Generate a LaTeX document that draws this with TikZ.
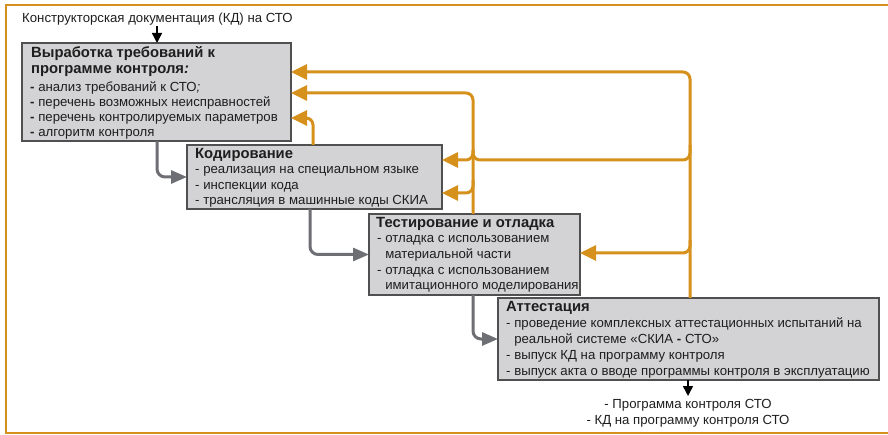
\documentclass[tikz,border=0pt]{standalone}
\usepackage{fontspec}
\setmainfont{Liberation Sans}
\usetikzlibrary{arrows.meta}
\definecolor{orng}{RGB}{214,145,28}
\definecolor{boxfill}{RGB}{211,211,213}
\definecolor{boxline}{RGB}{80,80,80}
\definecolor{garrow}{RGB}{110,111,116}
\definecolor{txtc}{RGB}{30,30,30}
\begin{document}
\begin{tikzpicture}[x=1pt,y=-1pt,
  box/.style={draw=boxline, fill=boxfill, line width=1.3pt, inner sep=0pt, outer sep=0pt, anchor=north west},
  txt/.style={anchor=base west, inner sep=0pt, font=\fontsize{13.2}{15}\selectfont, text=txtc},
  ctxt/.style={anchor=base, inner sep=0pt, font=\fontsize{13.2}{15}\selectfont, text=txtc},
  ttl/.style={anchor=base west, inner sep=0pt, font=\fontsize{14.8}{16}\selectfont\bfseries, text=txtc},
  oline/.style={draw=orng, line width=3pt, rounded corners=7pt},
  oarr/.style={oline, -{Triangle[length=16pt,width=15pt]}},
  garr/.style={draw=garrow, line width=3pt, rounded corners=8pt, -{Triangle[length=16pt,width=13pt]}},
  karr/.style={draw=black, line width=1.5pt, -{Triangle[length=10pt,width=10pt]}}]
\useasboundingbox (0,0) rectangle (888,435);
% frame
\draw[orng, line width=2pt] (888,5) -- (6,5) -- (6,433) -- (888,433);

% boxes
\node[box, minimum width=269pt, minimum height=98pt] (b1) at (22,43) {};
\node[box, minimum width=255pt, minimum height=64pt] (b2) at (187,145) {};
\node[box, minimum width=211pt, minimum height=81pt] (b3) at (369,214) {};
\node[box, minimum width=381pt, minimum height=82pt] (b4) at (498,298) {};

% texts
\node[txt] (ttop) at (22,22.5) {Конструкторская документация (КД) на СТО};

\node[ttl] (t1a) at (31,58) {Выработка требований к};
\node[ttl] (t1b) at (31,74) {программе контроля\textit{:}};
\node[txt] (t1c) at (30,91.5) {\textbf{-} анализ требований к СТО\textit{;}};
\node[txt] (t1d) at (30,106.5) {\textbf{-} перечень возможных неисправностей};
\node[txt] (t1e) at (30,122) {\textbf{-} перечень контролируемых параметров};
\node[txt] (t1f) at (30,137) {\textbf{-} алгоритм контроля};

\node[ttl] (t2a) at (195,159) {Кодирование};
\node[txt] (t2b) at (195,173.5) {- реализация на специальном языке};
\node[txt] (t2c) at (195,189.5) {- инспекции кода};
\node[txt] (t2d) at (195,205) {- трансляция в машинные коды СКИА};

\node[ttl] (t3a) at (376,228) {Тестирование и отладка};
\node[txt] (t3b) at (377,242.5) {- отладка с использованием};
\node[txt] (t3c) at (377,258.5) {\phantom{- }материальной части};
\node[txt] (t3d) at (377,274.5) {- отладка с использованием};
\node[txt] (t3e) at (377,290) {\phantom{- }имитационного моделирования};

\node[ttl] (t4a) at (506,312) {Аттестация};
\node[txt] (t4b) at (506,327.5) {- проведение комплексных аттестационных испытаний на};
\node[txt] (t4c) at (506,343.5) {\phantom{- }реальной системе «СКИА \textbf{-} СТО»};
\node[txt] (t4d) at (506,359.5) {- выпуск КД на программу контроля};
\node[txt] (t4e) at (506,375) {- выпуск акта о вводе программы контроля в эксплуатацию};

\node[ctxt] (out1) at (688,408.5) {- Программа контроля СТО};
\node[ctxt] (out2) at (688,424.5) {- КД на программу контроля СТО};

% coordinates
\coordinate (k1) at (157,26);
\coordinate (k2) at (688,396);
\coordinate (g1) at (157,0);
\coordinate (g2) at (310,0);
\coordinate (g3) at (473,0);
\coordinate (jA72) at (690,72);
\coordinate (jA145) at (690,145);
\coordinate (jA160) at (690,160);
\coordinate (jA240) at (690,240);
\coordinate (jA253) at (690,253);
\coordinate (jB93) at (473,93);
\coordinate (jB150) at (473,150);
\coordinate (jB160) at (473,160);
\coordinate (jB180) at (473,180);
\coordinate (jB193) at (473,193);
\coordinate (jC) at (313,118);

% black arrows
\draw[karr] (k1) -- (b1.north -| k1);
\draw[karr] (b4.south -| k2) -- (k2);

% gray arrows
\draw[garr] (b1.south -| g1) |- (b2.west);
\draw[garr] (b2.south -| g2) |- (b3.west);
\draw[garr] (b3.south -| g3) |- (b4.west);

% orange arrows
\draw[oarr] (b4.north -| jA72) -- (jA72) -- (b1.east |- jA72);
\draw[oline] (jA145) -- (jA160) -- (jB160) -- (jB150);
\draw[oarr] (jB150) -- (jB160) -- (b2.east |- jB160);
\draw[oarr] (jA240) -- (jA253) -- (b3.east |- jA253);
\draw[oarr] (b3.north -| jB93) -- (jB93) -- (b1.east |- jB93);
\draw[oarr] (jB180) -- (jB193) -- (b2.east |- jB193);
\draw[oarr] (b2.north -| jC) -- (jC) -- (b1.east |- jC);
\end{tikzpicture}
\end{document}
